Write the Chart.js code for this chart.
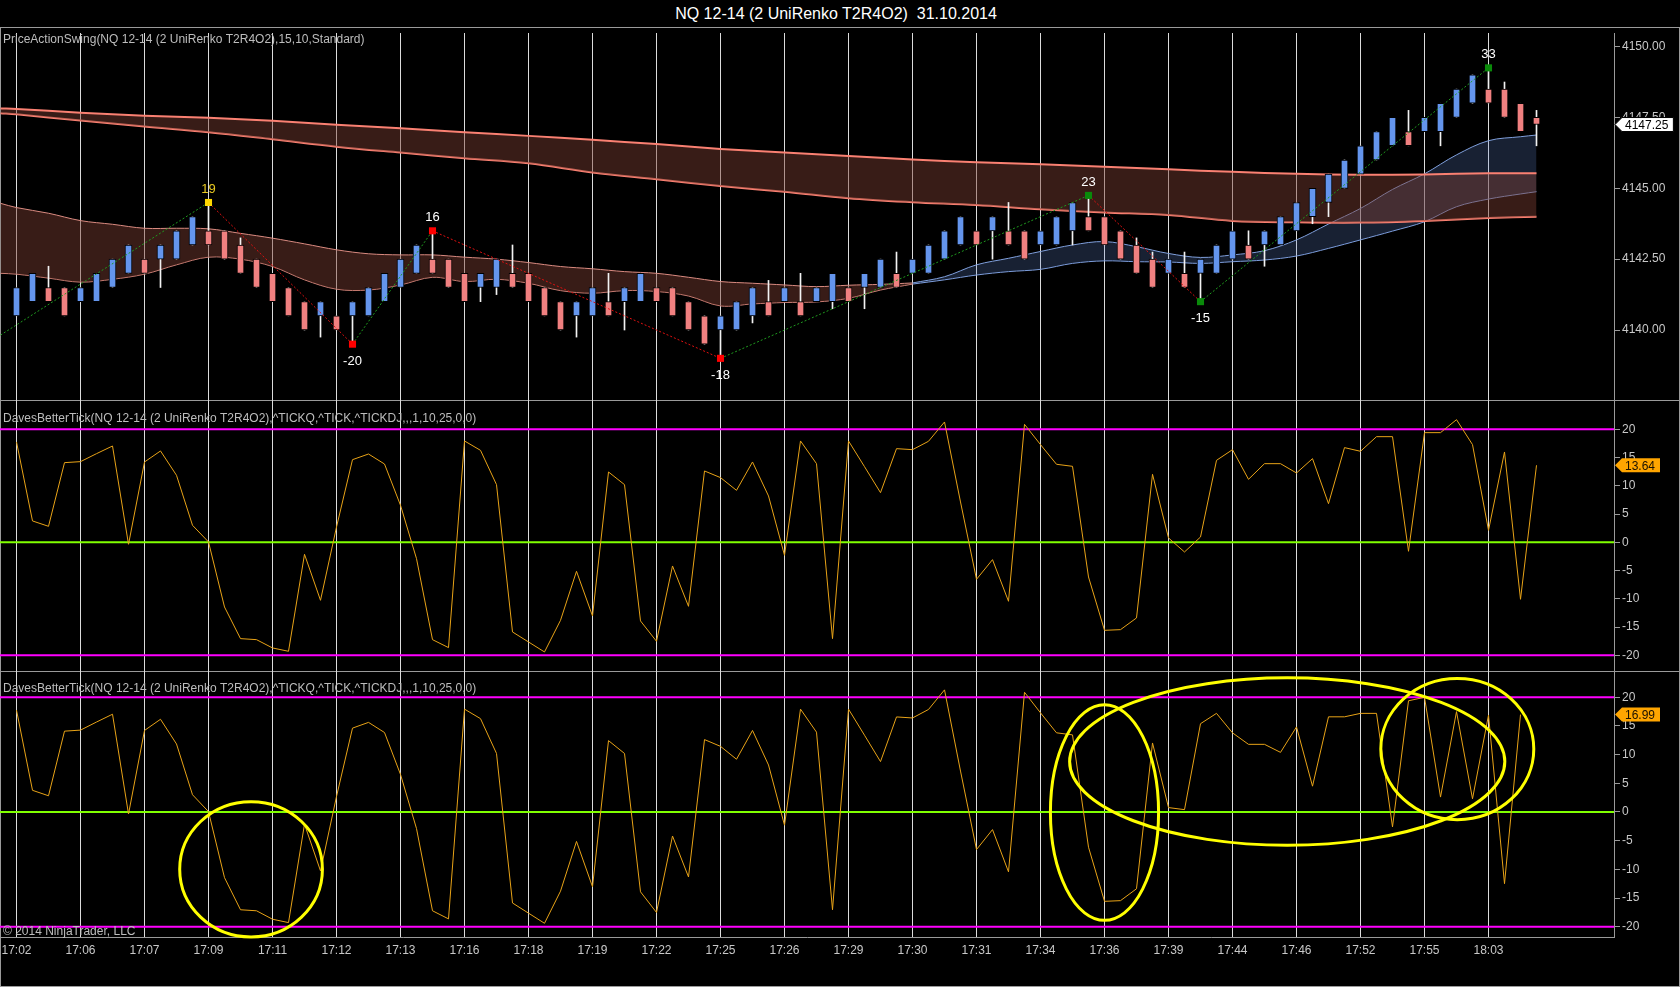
<!DOCTYPE html>
<html>
<head>
<meta charset="utf-8">
<script src="https://cdn.jsdelivr.net/npm/chart.js@4.4.1/dist/chart.umd.min.js"></script>
<style>
  html, body { margin: 0; padding: 0; background: #000; }
  body { width: 1680px; height: 987px; position: relative; overflow: hidden; font-family: "Liberation Sans", Arial, sans-serif; }
  #title { position: absolute; left: 0; top: 4px; width: 1672px; text-align: center; color: #fff; font-size: 16px; line-height: 20px; white-space: pre; }
  .rule { position: absolute; left: 0; width: 1680px; height: 1px; background: #9a9a9a; }
  .edge { position: absolute; top: 27px; width: 1px; height: 960px; background: #9a9a9a; }
  .pane { position: absolute; left: 0; width: 1680px; }
</style>
</head>
<body>
<div id="title">NQ 12-14 (2 UniRenko T2R4O2)  31.10.2014</div>
<div class="rule" style="top:27px"></div>
<div class="rule" style="top:400px"></div>
<div class="rule" style="top:671px"></div>
<div class="rule" style="top:986px"></div>
<div class="edge" style="left:0"></div>
<div class="edge" style="left:1679px"></div>
<div class="pane" style="top:33px;height:367px"><canvas id="priceChart"></canvas></div>
<div class="pane" style="top:400px;height:271px"><canvas id="tickChart"></canvas></div>
<div class="pane" style="top:671px;height:316px"><canvas id="tickChart2"></canvas></div>
<script>
// time labels sit on every 4th renko bar
const barTimes = ['17:02', '17:06', '17:07', '17:09', '17:11', '17:12', '17:13', '17:16', '17:18', '17:19', '17:22', '17:25',
  '17:26', '17:29', '17:30', '17:31', '17:34', '17:36', '17:39', '17:44', '17:46', '17:52', '17:55', '18:03'];
const timeBars = [0, 4, 8, 12, 16, 20, 24, 28, 32, 36, 40, 44, 48, 52, 56, 60, 64, 68, 72, 76, 80, 84, 88, 92];

const priceTicks = [4140, 4142.5, 4145, 4147.5, 4150];
const oscTicks = [-20, -15, -10, -5, 0, 5, 10, 15, 20];

const opens = [4140.5, 4141.0, 4141.5, 4141.5, 4141.0, 4141.0, 4141.5, 4142.0, 4142.5, 4142.5, 4142.5, 4143.0,
  4143.5, 4143.5, 4143.0, 4142.5, 4142.0, 4141.5, 4141.0, 4140.5, 4140.5, 4140.5, 4140.5, 4141.0,
  4141.5, 4142.0, 4142.5, 4142.5, 4142.0, 4141.5, 4141.5, 4142.0, 4142.0, 4141.5, 4141.0, 4140.5,
  4140.5, 4141.0, 4141.0, 4141.0, 4141.5, 4141.5, 4141.0, 4140.5, 4140.0, 4140.0, 4140.5, 4141.0,
  4141.0, 4141.0, 4141.0, 4141.0, 4141.5, 4141.5, 4141.5, 4142.0, 4142.0, 4142.0, 4142.5, 4143.0,
  4143.5, 4143.5, 4143.5, 4143.5, 4143.0, 4143.0, 4143.5, 4144.0, 4144.0, 4143.5, 4143.0, 4142.5,
  4142.0, 4142.0, 4142.0, 4142.0, 4142.5, 4143.0, 4143.0, 4143.0, 4143.5, 4144.0, 4144.5, 4145.0,
  4145.5, 4146.0, 4146.5, 4147.0, 4147.0, 4147.0, 4147.5, 4148.0, 4148.5, 4148.5, 4148.0, 4147.5];
const closes = [4141.5, 4142.0, 4141.0, 4140.5, 4141.5, 4142.0, 4142.5, 4143.0, 4142.0, 4143.0, 4143.5, 4144.0,
  4143.0, 4142.5, 4142.0, 4141.5, 4141.0, 4140.5, 4140.0, 4141.0, 4140.0, 4141.0, 4141.5, 4142.0,
  4142.5, 4143.0, 4142.0, 4141.5, 4141.0, 4142.0, 4142.5, 4141.5, 4141.0, 4140.5, 4140.0, 4141.0,
  4141.5, 4140.5, 4141.5, 4142.0, 4141.0, 4140.5, 4140.0, 4139.5, 4140.5, 4141.0, 4141.5, 4140.5,
  4141.5, 4140.5, 4141.5, 4142.0, 4141.0, 4142.0, 4142.5, 4141.5, 4142.5, 4143.0, 4143.5, 4144.0,
  4143.0, 4144.0, 4143.0, 4142.5, 4143.5, 4144.0, 4144.5, 4143.5, 4143.0, 4142.5, 4142.0, 4141.5,
  4142.5, 4141.5, 4142.5, 4143.0, 4143.5, 4142.5, 4143.5, 4144.0, 4144.5, 4145.0, 4145.5, 4146.0,
  4146.5, 4147.0, 4147.5, 4146.5, 4147.5, 4148.0, 4148.5, 4149.0, 4148.0, 4147.5, 4147.0, 4147.25];
const highs = [4141.5, 4142.0, 4142.25, 4141.5, 4141.5, 4142.0, 4142.5, 4143.0, 4142.5, 4143.0, 4143.5, 4144.0,
  4144.5, 4143.5, 4143.25, 4142.5, 4142.0, 4141.5, 4141.0, 4141.0, 4140.5, 4141.0, 4141.5, 4142.0,
  4142.5, 4143.0, 4143.5, 4142.5, 4142.0, 4142.0, 4142.5, 4143.0, 4142.0, 4141.5, 4141.0, 4141.0,
  4141.5, 4142.0, 4141.5, 4142.0, 4141.5, 4141.5, 4141.0, 4140.5, 4140.5, 4141.0, 4141.5, 4141.75,
  4141.5, 4142.0, 4141.5, 4142.0, 4141.5, 4142.0, 4142.5, 4142.75, 4142.5, 4143.0, 4143.5, 4144.0,
  4143.5, 4144.0, 4144.5, 4143.5, 4143.5, 4144.0, 4144.5, 4144.75, 4144.0, 4143.5, 4143.25, 4142.75,
  4142.5, 4142.75, 4142.5, 4143.0, 4143.5, 4143.5, 4143.5, 4144.0, 4144.5, 4145.0, 4145.5, 4146.0,
  4146.5, 4147.0, 4147.5, 4147.75, 4147.5, 4148.0, 4148.5, 4149.0, 4149.25, 4148.75, 4148.0, 4147.75];
const lows = [4140.5, 4141.0, 4141.0, 4140.5, 4141.0, 4141.0, 4141.5, 4142.0, 4142.0, 4141.5, 4142.5, 4143.0,
  4143.0, 4142.5, 4142.0, 4141.5, 4141.0, 4140.5, 4140.0, 4139.75, 4140.0, 4139.5, 4140.5, 4141.0,
  4141.5, 4142.0, 4142.0, 4141.5, 4141.0, 4141.0, 4141.25, 4141.5, 4141.0, 4140.5, 4140.0, 4139.75,
  4140.5, 4140.5, 4140.0, 4141.0, 4141.0, 4140.5, 4140.0, 4139.5, 4139.0, 4140.0, 4140.25, 4140.5,
  4141.0, 4140.5, 4141.0, 4140.75, 4141.0, 4140.75, 4141.5, 4141.5, 4142.0, 4142.0, 4142.5, 4143.0,
  4143.0, 4142.5, 4143.0, 4142.5, 4143.0, 4143.0, 4143.0, 4143.5, 4143.0, 4142.5, 4142.0, 4141.5,
  4142.0, 4141.5, 4141.0, 4142.0, 4142.5, 4142.5, 4142.25, 4143.0, 4143.5, 4143.75, 4144.0, 4145.0,
  4145.5, 4146.0, 4146.5, 4146.5, 4147.0, 4146.5, 4147.5, 4148.0, 4148.0, 4147.5, 4147.0, 4146.5];

// slow moving-average band (read every 4 bars)
const slowBars = [-1, 0, 4, 8, 12, 16, 20, 24, 28, 32, 36, 40, 44, 48, 52, 56, 60, 64, 68, 72, 76, 80, 84, 88, 92, 95];
const slowUpper = [4147.82, 4147.80, 4147.67, 4147.56, 4147.49, 4147.38, 4147.24, 4147.12, 4146.98, 4146.85, 4146.71, 4146.56, 4146.39,
  4146.26, 4146.14, 4146.02, 4145.92, 4145.85, 4145.76, 4145.67, 4145.58, 4145.51, 4145.48, 4145.49, 4145.53, 4145.53];
const slowLower = [4147.65, 4147.61, 4147.39, 4147.18, 4146.98, 4146.73, 4146.47, 4146.26, 4146.06, 4145.88, 4145.56, 4145.32, 4145.08,
  4144.88, 4144.65, 4144.51, 4144.41, 4144.26, 4144.15, 4144.06, 4143.85, 4143.80, 4143.79, 4143.85, 4143.95, 4144.00];

// fast band, bearish part (pink) then bullish part (blue)
const pinkBars = [-1, 0, 2, 4, 6, 8, 10, 12, 14, 16, 18, 20, 22, 24, 26, 28, 30, 32, 34, 36, 38, 40, 42, 44, 46, 48, 50, 52, 54, 56];
const pinkUpper = [4144.47, 4144.32, 4144.12, 4143.86, 4143.73, 4143.59, 4143.59, 4143.57, 4143.41, 4143.24, 4143.04, 4142.83, 4142.69, 4142.65, 4142.65,
  4142.57, 4142.50, 4142.38, 4142.24, 4142.16, 4142.06, 4142.00, 4141.86, 4141.71, 4141.65, 4141.59, 4141.53, 4141.58, 4141.61, 4141.66];
const pinkLower = [4142.00, 4141.97, 4141.83, 4141.69, 4141.79, 4141.97, 4142.30, 4142.57, 4142.50, 4142.24, 4141.77, 4141.44, 4141.41, 4141.59, 4141.86,
  4141.71, 4141.79, 4141.65, 4141.39, 4141.30, 4141.39, 4141.36, 4141.20, 4140.85, 4140.92, 4140.97, 4140.99, 4141.12, 4141.41, 4141.62];
const blueBars = [56, 58, 60, 62, 64, 66, 68, 70, 72, 74, 76, 78, 80, 82, 84, 86, 88, 90, 92, 94, 95];
const blueUpper = [4141.66, 4141.88, 4142.30, 4142.53, 4142.77, 4143.00, 4143.12, 4142.94, 4142.70, 4142.56, 4142.65, 4142.80, 4143.18, 4143.74,
  4144.29, 4144.96, 4145.51, 4146.18, 4146.68, 4146.82, 4146.88];
const blueLower = [4141.62, 4141.77, 4141.94, 4142.06, 4142.14, 4142.35, 4142.44, 4142.41, 4142.40, 4142.35, 4142.41, 4142.47, 4142.61, 4142.88,
  4143.18, 4143.49, 4143.82, 4144.35, 4144.62, 4144.80, 4144.88];

// swing points (first one is where the leg enters from the left edge)
const swingBars = [-1, 12, 21, 26, 44, 67, 74, 92];
const swingPrices = [4139.82, 4144.5, 4139.5, 4143.5, 4139.0, 4144.75, 4141.0, 4149.25];
const swingLabels = ['', '19', '-20', '16', '-18', '23', '-15', '33'];
const swingDotColors = ['#000', '#ffd700', '#ff0000', '#ff0000', '#ff0000', '#0a8a0a', '#0a8a0a', '#0a8a0a'];
const swingTextColors = ['#fff', '#e8c820', '#ffffff', '#ffffff', '#ffffff', '#ffffff', '#ffffff', '#ffffff'];

const tickValues = [17.76, 3.78, 2.83, 14.10, 14.28, 15.69, 17.05, -0.35, 14.22, 16.17, 11.86, 3.01,
  0.06, -11.45, -17.05, -17.23, -18.70, -19.29, -2.12, -10.27, 2.71, 14.63, 15.63, 13.86,
  6.55, -2.89, -17.23, -18.64, 17.94, 16.28, 10.21, -15.87, -17.64, -19.41, -13.81, -5.13,
  -13.04, 12.45, 10.21, -13.92, -17.52, -4.19, -11.33, 12.63, 11.45, 9.20, 14.22, 8.20,
  -2.30, 17.94, 13.92, -17.05, 17.94, 13.39, 8.79, 16.58, 16.40, 17.88, 21.30, 7.14,
  -6.55, -3.07, -10.44, 20.88, 17.29, 13.81, 13.45, -6.14, -15.58, -15.46, -13.39, 12.04,
  0.77, -1.71, 0.94, 14.51, 16.40, 11.15, 13.92, 13.92, 12.27, 14.81, 6.84, 16.76,
  16.11, 18.70, 18.70, -1.59, 19.41, 19.41, 21.71, 17.29, 2.12, 15.99, -10.09, 13.64];
// lower pane: same indicator, differs from bar 73 on
const tick2Tail = [0.41, 15.4, 17.2, 13.8, 11.8, 11.8, 10.4, 14.84, 4.5, 16.6, 16.6, 17.2,
  17.2, -2.6, 19.4, 20.0, 2.6, 17.5, 2.3, 16.9, -12.5, 16.99];
const tick2Values = tickValues.slice(0, 73).concat(tick2Tail);

const levelValues = [20, 0, -20];
const levelColors = ['#ff00ff', '#80ff00', '#ff00ff'];

// hand-drawn ellipses on the lower pane (centre bar/value, half sizes)
const ellipseBars = [14.66, 68.0, 79.42, 90.05];
const ellipseValues = [-10.0, -0.1, 8.8, 10.97];
const ellipseHalfBars = [4.46, 3.38, 13.6, 4.78];
const ellipseHalfValues = [11.8, 18.8, 14.6, 12.3];

Chart.defaults.font.family = '"Liberation Sans", Arial, sans-serif';
Chart.defaults.color = '#c8c8c8';
Chart.defaults.animation = false;

const AXIS_W = 66;
const PLOT_W = 1680 - AXIS_W;
const X_MIN = -1.03125;
const X_MAX = X_MIN + PLOT_W / 16;
const barIndex = opens.map((_, i) => i);
const xy = (xs, ys) => xs.map((x, i) => ({ x, y: ys[i] }));

function noPadding(s) {
  s.paddingTop = 0;
  s.paddingBottom = 0;
  s.paddingLeft = 0;
  s.paddingRight = 0;
}

function timeAxis(showLabels) {
  return {
    type: 'linear',
    min: X_MIN,
    max: X_MAX,
    offset: false,
    afterBuildTicks: s => { s.ticks = timeBars.map(v => ({ value: v })); },
    afterFit: s => { s.height = showLabels ? 50 : 0; noPadding(s); },
    grid: { color: '#dcdcdc', lineWidth: 1, drawTicks: false, offset: false },
    border: { display: showLabels, color: '#9a9a9a' },
    ticks: {
      display: showLabels,
      padding: 6,
      autoSkip: false,
      maxRotation: 0,
      color: '#c8c8c8',
      font: { size: 12 },
      callback: v => barTimes[timeBars.indexOf(v)] ?? '',
    },
  };
}

function valueAxis(min, max, values, format) {
  return {
    type: 'linear',
    position: 'right',
    min,
    max,
    afterBuildTicks: s => { s.ticks = values.map(v => ({ value: v })); },
    afterFit: s => { s.width = AXIS_W; noPadding(s); },
    grid: { drawOnChartArea: false, drawTicks: true, tickLength: 6, color: '#9a9a9a' },
    border: { display: true, color: '#9a9a9a' },
    ticks: { padding: 2, color: '#c8c8c8', font: { size: 12 }, callback: format },
  };
}

const paneOverlay = {
  id: 'paneOverlay',
  afterDraw(chart, args, opts) {
    const { ctx, chartArea } = chart;
    ctx.save();
    ctx.font = '12px "Liberation Sans", Arial, sans-serif';
    ctx.textBaseline = 'middle';
    ctx.textAlign = 'left';
    ctx.fillStyle = '#bdbdbd';
    ctx.fillText(opts.caption, 3, opts.captionY);
    if (opts.footnote) ctx.fillText(opts.footnote, 3, opts.footnoteY);

    const py = chart.scales.y.getPixelForValue(opts.lastValue);
    const x0 = chartArea.right;
    const w = ctx.measureText(opts.lastText).width + 8;
    ctx.beginPath();
    ctx.moveTo(x0 + 1, py);
    ctx.lineTo(x0 + 8, py - 7);
    ctx.lineTo(x0 + 8 + w, py - 7);
    ctx.lineTo(x0 + 8 + w, py + 7);
    ctx.lineTo(x0 + 8, py + 7);
    ctx.closePath();
    ctx.fillStyle = opts.boxColor;
    ctx.fill();
    if (opts.boxBorder) {
      ctx.strokeStyle = opts.boxBorder;
      ctx.lineWidth = 1;
      ctx.stroke();
    }
    ctx.fillStyle = opts.textColor;
    ctx.fillText(opts.lastText, x0 + 11, py + 1);
    ctx.restore();
  },
};

const swingText = {
  id: 'swingText',
  afterDatasetsDraw(chart) {
    const { ctx, scales } = chart;
    ctx.save();
    ctx.font = '13px "Liberation Sans", Arial, sans-serif';
    ctx.textAlign = 'center';
    ctx.textBaseline = 'middle';
    for (let i = 1; i < swingBars.length; i++) {
      const x = scales.x.getPixelForValue(swingBars[i]);
      const y = scales.y.getPixelForValue(swingPrices[i]);
      const isHigh = swingPrices[i] > swingPrices[i - 1];
      ctx.fillStyle = swingTextColors[i];
      ctx.fillText(swingLabels[i], x, isHigh ? y - 13 : y + 17);
    }
    ctx.restore();
  },
};

const ellipseMarks = {
  id: 'ellipseMarks',
  afterDatasetsDraw(chart) {
    const { ctx, scales } = chart;
    ctx.save();
    ctx.strokeStyle = '#ffff00';
    ctx.lineWidth = 3;
    ellipseBars.forEach((b, i) => {
      const cx = scales.x.getPixelForValue(b);
      const cy = scales.y.getPixelForValue(ellipseValues[i]);
      const rx = Math.abs(scales.x.getPixelForValue(b + ellipseHalfBars[i]) - cx);
      const ry = Math.abs(scales.y.getPixelForValue(ellipseValues[i] + ellipseHalfValues[i]) - cy);
      ctx.beginPath();
      ctx.ellipse(cx, cy, rx, ry, 0, 0, Math.PI * 2);
      ctx.stroke();
    });
    ctx.restore();
  },
};

function bandLine(xs, ys, color, width, fillColor) {
  return {
    type: 'line',
    data: xy(xs, ys),
    borderColor: color,
    borderWidth: width,
    pointRadius: 0,
    tension: 0.35,
    fill: fillColor ? '+1' : false,
    backgroundColor: fillColor || 'transparent',
    order: 10,
  };
}

new Chart(document.getElementById('priceChart'), {
  type: 'line',
  data: {
    datasets: [
      bandLine(slowBars, slowUpper, '#fa8072', 2, 'rgba(125, 62, 52, 0.45)'),
      bandLine(slowBars, slowLower, '#fa8072', 2),
      bandLine(pinkBars, pinkUpper, '#d98a80', 1, 'rgba(125, 62, 52, 0.45)'),
      bandLine(pinkBars, pinkLower, '#d98a80', 1),
      bandLine(blueBars, blueUpper, '#7f9fdc', 1, 'rgba(100, 140, 215, 0.24)'),
      bandLine(blueBars, blueLower, '#7f9fdc', 1),
      {
        type: 'bar',
        data: barIndex.map(i => ({ x: i, y: [lows[i], highs[i]] })),
        backgroundColor: '#f2f2f2',
        barThickness: 1,
        grouped: false,
        order: 5,
      },
      {
        type: 'bar',
        data: barIndex.map(i => ({ x: i, y: [opens[i], closes[i]] })),
        backgroundColor: barIndex.map(i => (closes[i] >= opens[i] ? '#6495ed' : '#f08080')),
        borderColor: '#000',
        borderWidth: 1,
        borderSkipped: false,
        barThickness: 7,
        grouped: false,
        order: 4,
      },
      {
        type: 'line',
        data: xy(swingBars, swingPrices),
        borderWidth: 1,
        borderDash: [2, 2],
        pointRadius: 0,
        segment: { borderColor: c => (c.p1.parsed.y > c.p0.parsed.y ? '#1f9a1f' : '#e01010') },
        order: 2,
      },
      {
        type: 'line',
        data: xy(swingBars.slice(1), swingPrices.slice(1)),
        showLine: false,
        pointStyle: 'rect',
        pointRadius: 5,
        pointBorderWidth: 0,
        pointBackgroundColor: swingDotColors.slice(1),
        order: 1,
      },
    ],
  },
  options: {
    responsive: true,
    maintainAspectRatio: false,
    layout: { padding: 0, autoPadding: false },
    plugins: {
      legend: { display: false },
      tooltip: { enabled: false },
      paneOverlay: {
        caption: 'PriceActionSwing(NQ 12-14 (2 UniRenko T2R4O2),15,10,Standard)',
        captionY: 7,
        lastValue: closes[closes.length - 1],
        lastText: closes[closes.length - 1].toFixed(2),
        boxColor: '#ffffff',
        boxBorder: '#000000',
        textColor: '#000000',
      },
    },
    scales: {
      x: timeAxis(false),
      y: valueAxis(4137.53, 4150.48, priceTicks, v => v.toFixed(2)),
    },
  },
  plugins: [paneOverlay, swingText],
});

function oscDatasets(values) {
  const sets = levelValues.map((v, i) => ({
    type: 'line',
    data: [{ x: X_MIN - 2, y: v }, { x: X_MAX + 2, y: v }],
    borderColor: levelColors[i],
    borderWidth: 2,
    pointRadius: 0,
    order: 3,
  }));
  sets.push({
    type: 'line',
    data: xy(barIndex.slice(0, values.length), values),
    borderColor: '#e8a317',
    borderWidth: 1,
    pointRadius: 0,
    tension: 0,
    order: 1,
  });
  return sets;
}

function oscOptions(min, max, caption, captionY, values, withTime, extra) {
  const last = values[values.length - 1];
  return {
    responsive: true,
    maintainAspectRatio: false,
    layout: { padding: 0, autoPadding: false },
    plugins: {
      legend: { display: false },
      tooltip: { enabled: false },
      paneOverlay: Object.assign({
        caption,
        captionY,
        lastValue: last,
        lastText: last.toFixed(2),
        boxColor: '#ffa500',
        textColor: '#1a1000',
      }, extra),
    },
    scales: {
      x: timeAxis(withTime),
      y: valueAxis(min, max, oscTicks, v => String(v)),
    },
  };
}

const tickCaption = 'DavesBetterTick(NQ 12-14 (2 UniRenko T2R4O2),^TICKQ,^TICK,^TICKDJ,,,1,10,25,0,0)';

new Chart(document.getElementById('tickChart'), {
  type: 'line',
  data: { datasets: oscDatasets(tickValues) },
  options: oscOptions(-22.78, 25.19, tickCaption, 19, tickValues, false, {}),
  plugins: [paneOverlay],
});

new Chart(document.getElementById('tickChart2'), {
  type: 'line',
  data: { datasets: oscDatasets(tick2Values) },
  options: oscOptions(-21.8, 24.59, tickCaption, 18, tick2Values, true,
    { footnote: '\u00a9 2014 NinjaTrader, LLC', footnoteY: 261 }),
  plugins: [paneOverlay, ellipseMarks],
});
</script>
</body>
</html>
